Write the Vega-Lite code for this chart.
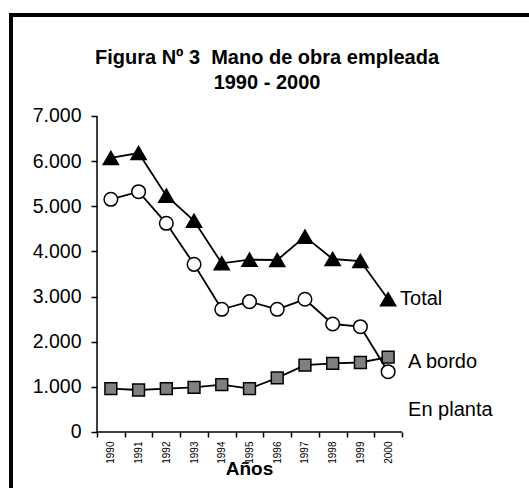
{
  "$schema": "https://vega.github.io/schema/vega-lite/v6.json",
  "autosize": {"type": "none"},
  "width": 530,
  "height": 490,
  "padding": {"left": 11, "top": 15, "right": -12, "bottom": -17},
  "background": "white",
  "config": {
    "view": {"stroke": "black", "strokeWidth": 4},
    "font": "Liberation Sans"
  },
  "title": {
    "text": ["Figura Nº 3\u00a0 Mano de obra empleada", "1990 - 2000"],
    "fontSize": 20,
    "fontWeight": "bold",
    "font": "Liberation Sans",
    "color": "black",
    "anchor": "middle",
    "frame": "group",
    "offset": -78,
    "dx": -9,
    "lineHeight": 25
  },
  "datasets": {
    "series": [
      {"year": 1990, "series": "Total", "value": 6070},
      {"year": 1991, "series": "Total", "value": 6180},
      {"year": 1992, "series": "Total", "value": 5235},
      {"year": 1993, "series": "Total", "value": 4680},
      {"year": 1994, "series": "Total", "value": 3737},
      {"year": 1995, "series": "Total", "value": 3817},
      {"year": 1996, "series": "Total", "value": 3810},
      {"year": 1997, "series": "Total", "value": 4327},
      {"year": 1998, "series": "Total", "value": 3832},
      {"year": 1999, "series": "Total", "value": 3788},
      {"year": 2000, "series": "Total", "value": 2940},
      {"year": 1990, "series": "A bordo", "value": 5155},
      {"year": 1991, "series": "A bordo", "value": 5323},
      {"year": 1992, "series": "A bordo", "value": 4623},
      {"year": 1993, "series": "A bordo", "value": 3714},
      {"year": 1994, "series": "A bordo", "value": 2718},
      {"year": 1995, "series": "A bordo", "value": 2887},
      {"year": 1996, "series": "A bordo", "value": 2718},
      {"year": 1997, "series": "A bordo", "value": 2940},
      {"year": 1998, "series": "A bordo", "value": 2392},
      {"year": 1999, "series": "A bordo", "value": 2333},
      {"year": 2000, "series": "A bordo", "value": 1336},
      {"year": 1990, "series": "En planta", "value": 960},
      {"year": 1991, "series": "En planta", "value": 930},
      {"year": 1992, "series": "En planta", "value": 960},
      {"year": 1993, "series": "En planta", "value": 990},
      {"year": 1994, "series": "En planta", "value": 1050},
      {"year": 1995, "series": "En planta", "value": 960},
      {"year": 1996, "series": "En planta", "value": 1200},
      {"year": 1997, "series": "En planta", "value": 1480},
      {"year": 1998, "series": "En planta", "value": 1520},
      {"year": 1999, "series": "En planta", "value": 1540},
      {"year": 2000, "series": "En planta", "value": 1660}
    ],
    "labels": [
      {"label": "Total", "year": 2000.43, "value": 2940},
      {"label": "A bordo", "year": 2000.72, "value": 1540},
      {"label": "En planta", "year": 2000.72, "value": 487}
    ]
  },
  "layer": [
    {
      "data": {"values": [{}]},
      "mark": {"type": "rule", "color": "black", "strokeWidth": 1.5},
      "encoding": {
        "x": {
          "datum": 1989.5, "type": "quantitative",
          "scale": {"domain": [1986.3984, 2005.5132], "nice": false, "zero": false},
          "axis": {
            "title": "Años",
            "titleFont": "Liberation Sans",
            "titleFontSize": 19,
            "titleFontWeight": "bold",
            "titleColor": "black",
            "titlePadding": -4,
            "titleX": 238,
            "values": [1989.5, 1990.5, 1991.5, 1992.5, 1993.5, 1994.5, 1995.5, 1996.5, 1997.5, 1998.5, 1999.5, 2000.5],
            "labelExpr": "datum.value < 2000 ? format(datum.value + 0.5, 'd') : ''",
            "labelOffset": 13.86,
            "labelAngle": -90,
            "labelAlign": "right",
            "labelBaseline": "middle",
            "labelFont": "Liberation Sans",
            "labelFontSize": 10,
            "labelColor": "black",
            "labelPadding": 4,
            "labelOverlap": false,
            "labelFlush": false,
            "labelBound": false,
            "tickSize": 5,
            "tickWidth": 1.5,
            "tickColor": "black",
            "domain": false,
            "grid": false,
            "offset": -73
          }
        },
        "y": {
          "datum": 0, "type": "quantitative",
          "scale": {"domain": [-1617.1, 9237.3], "nice": false, "zero": false},
          "axis": {
            "title": null,
            "values": [0, 1000, 2000, 3000, 4000, 5000, 6000, 7000],
            "labelExpr": "replace(format(datum.value, ','), ',', '.')",
            "labelFont": "Liberation Sans",
            "labelFontSize": 19.5,
            "labelColor": "black",
            "labelPadding": 10,
            "labelFlush": false,
            "labelOverlap": false,
            "tickSize": 6,
            "tickWidth": 1.5,
            "tickColor": "black",
            "domain": false,
            "grid": false,
            "offset": -86
          }
        },
        "y2": {"datum": 7000}
      }
    },
    {
      "data": {"values": [{}]},
      "mark": {"type": "rule", "color": "black", "strokeWidth": 1.5},
      "encoding": {
        "x": {"datum": 1989.5, "type": "quantitative", "scale": {"domain": [1986.3984, 2005.5132], "nice": false, "zero": false}},
        "x2": {"datum": 2000.5},
        "y": {"datum": 0, "type": "quantitative", "scale": {"domain": [-1617.1, 9237.3], "nice": false, "zero": false}}
      }
    },
    {
      "data": {"name": "series"},
      "mark": {"type": "line", "color": "black", "strokeWidth": 1.8},
      "encoding": {
        "x": {"field": "year", "type": "quantitative", "scale": {"domain": [1986.3984, 2005.5132], "nice": false, "zero": false}},
        "y": {"field": "value", "type": "quantitative", "scale": {"domain": [-1617.1, 9237.3], "nice": false, "zero": false}},
        "detail": {"field": "series"}
      }
    },
    {
      "data": {"name": "series"},
      "mark": {"type": "point", "filled": true, "stroke": "black", "strokeWidth": 1.5, "opacity": 1},
      "encoding": {
        "x": {"field": "year", "type": "quantitative", "scale": {"domain": [1986.3984, 2005.5132], "nice": false, "zero": false}},
        "y": {"field": "value", "type": "quantitative", "scale": {"domain": [-1617.1, 9237.3], "nice": false, "zero": false}},
        "shape": {"field": "series", "type": "nominal", "legend": null, "scale": {"domain": ["Total", "A bordo", "En planta"], "range": ["triangle-up", "circle", "square"]}},
        "fill": {"field": "series", "type": "nominal", "legend": null, "scale": {"domain": ["Total", "A bordo", "En planta"], "range": ["black", "white", "#808080"]}},
        "size": {"field": "series", "type": "nominal", "legend": null, "scale": {"domain": ["Total", "A bordo", "En planta"], "range": [230, 140, 200]}}
      }
    },
    {
      "data": {"name": "labels"},
      "mark": {"type": "text", "align": "left", "baseline": "middle", "font": "Liberation Sans", "fontSize": 20, "color": "black"},
      "encoding": {
        "x": {"field": "year", "type": "quantitative", "scale": {"domain": [1986.3984, 2005.5132], "nice": false, "zero": false}},
        "y": {"field": "value", "type": "quantitative", "scale": {"domain": [-1617.1, 9237.3], "nice": false, "zero": false}},
        "text": {"field": "label"}
      }
    }
  ]
}
